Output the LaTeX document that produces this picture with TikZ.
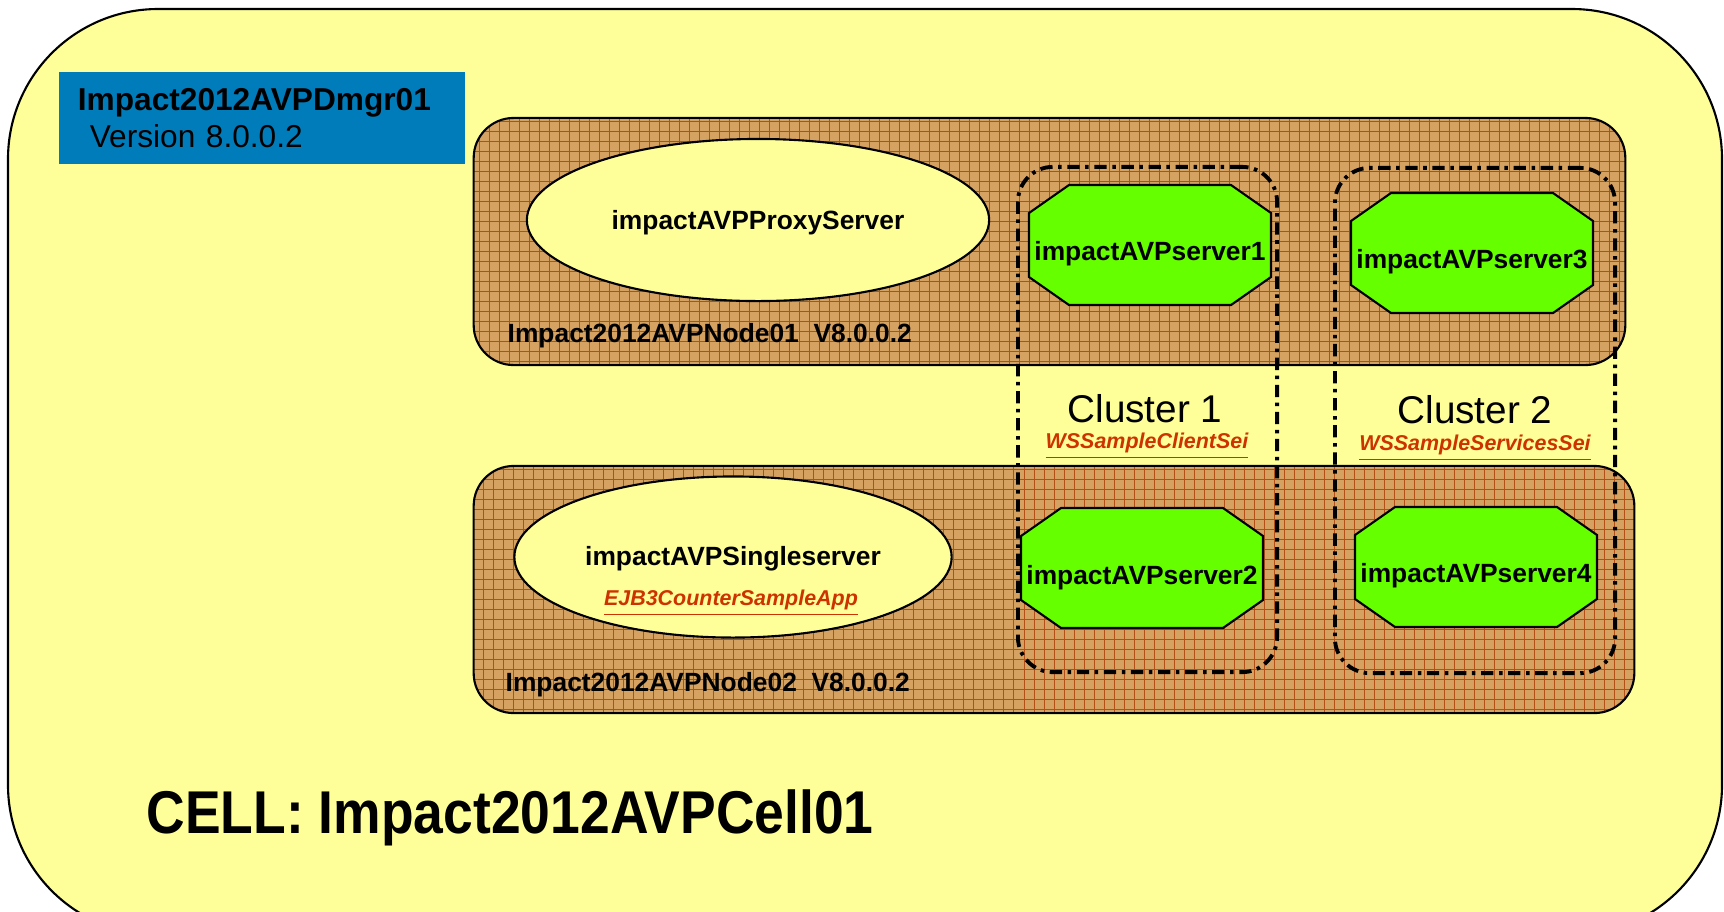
\documentclass[tikz,border=0pt]{standalone}
\usepackage{fontspec}
\setmainfont{Liberation Sans}
\usepackage{graphicx}
\usetikzlibrary{shapes.geometric}
\definecolor{cellyellow}{RGB}{255,255,153}
\definecolor{boxtan}{RGB}{214,162,98}
\definecolor{gridbrown}{RGB}{178,80,24}
\definecolor{dmgrblue}{RGB}{0,124,186}
\definecolor{srvgreen}{RGB}{102,255,0}
\definecolor{linkred}{RGB}{204,51,0}

\begin{document}
\begin{tikzpicture}[x=0.01cm, y=-0.01cm, font=\fontsize{7.5}{9}\selectfont\bfseries,
		nodebox/.style={draw, line width=0.6pt, fill=boxtan, rounded corners=0.4cm, minimum height=2.47cm,
			path picture={\draw[gridline] (path picture bounding box.south west) grid (path picture bounding box.north east);}},
		gridline/.style={draw=gridbrown, line width=0.28pt, step=1mm},
		appellipse/.style={ellipse, draw, line width=0.6pt, fill=cellyellow, inner sep=0pt},
		srvshape/.style={draw, line width=0.6pt, fill=srvgreen},
		cluster/.style={draw, line width=1.1pt, rounded corners=0.35cm, minimum height=5.05cm,
			dash pattern=on 3.5pt off 1.6pt on 1pt off 1.6pt},
		clustertitle/.style={font=\fontsize{11}{13}\selectfont},
		applink/.style={text=linkred, font=\fontsize{6.1}{7}\selectfont\bfseries\itshape}]
		\useasboundingbox (0, 0) rectangle (1724, 911);
		\clip (0, 0) rectangle (1724, 911);

		% cell
		\draw [line width = 0.6pt, fill = cellyellow, rounded corners = 1.5cm] (8, 9) rectangle (1722, 935);
		\node [fill = dmgrblue, align = left, text width = 3.68cm, inner sep = 0pt, minimum width = 4.06cm, minimum height = 0.92cm,
			font = \fontsize{9}{10.5}\selectfont] (dmgr) at (262, 118)
			{\textbf{Impact2012AVPDmgr01}\\\hspace*{3.4pt}Version 8.0.0.2};
		\node [anchor = base west, inner sep = 0pt, font = \fontsize{15.2}{18}\selectfont\bfseries] (celltitle) at (146, 833)
			{\scalebox{1}[1.13]{CELL: Impact2012AVPCell01}};

		% nodes
		\node [nodebox, minimum width = 11.51cm] (nodeA) at (1049.5, 241.5) {};
		\node [nodebox, minimum width = 11.60cm] (nodeB) at (1054, 589.5) {};
		\node [anchor = base west, inner sep = 0pt] (nodeAlbl) at (507, 342) {Impact2012AVPNode01~~V8.0.0.2};
		\node [anchor = base west, inner sep = 0pt] (nodeBlbl) at (505, 691) {Impact2012AVPNode02~~V8.0.0.2};

		\node [appellipse, text depth = 0pt, minimum width = 4.62cm, minimum height = 1.62cm] (proxy) at (758, 220) {impactAVPProxyServer};
		\node [appellipse, minimum width = 4.37cm, minimum height = 1.61cm] (single) at (733, 557) {};
		\node [anchor = base] (singlelbl) at (733, 565) {impactAVPSingleserver};
		\node [applink, anchor = base] (ejbapp) at (731, 605) {\underline{EJB3CounterSampleApp}};

		% servers
		\foreach \nm/\cx/\cy/\bl/\txt in {srvA/1150/245/260/impactAVPserver1, srvB/1142/568/584/impactAVPserver2,
				srvC/1472/253/268/impactAVPserver3, srvD/1476/567/582/impactAVPserver4} {
			\filldraw [srvshape] (\cx-81, \cy-60) -- ++(162, 0) -- ++(40, 28) -- ++(0, 64) -- ++(-40, 28)
				-- ++(-162, 0) -- ++(-40, -28) -- ++(0, -64) -- cycle;
			\node [anchor = base] (\nm) at (\cx, \bl) {\txt};
		}

		% clusters
		\node [cluster, minimum width = 2.59cm] (clusA) at (1147.5, 419.5) {};
		\node [cluster, minimum width = 2.80cm] (clusB) at (1475, 420.5) {};
		\node [clustertitle, anchor = base] (clusAlbl) at (1145, 422) {Cluster 1};
		\node [clustertitle, anchor = base] (clusBlbl) at (1475, 423) {Cluster 2};
		\node [applink, anchor = base] (clientapp) at (1147, 448) {\underline{WSSampleClientSei}};
		\node [applink, anchor = base] (serviceapp) at (1475, 450) {\underline{WSSampleServicesSei}};
	\end{tikzpicture}
\end{document}
